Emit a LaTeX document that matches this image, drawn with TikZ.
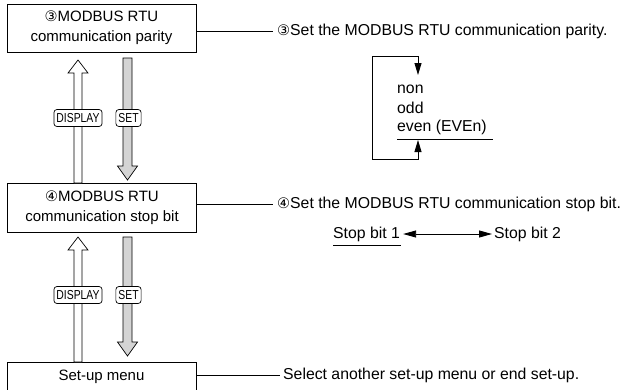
\documentclass[tikz,border=0pt]{standalone}
\usepackage{fontspec}
\setmainfont{Liberation Sans}
\newfontfamily\symfont{DejaVu Sans}
\newfontfamily\keyfont[FakeStretch=0.8]{Liberation Sans}
\usetikzlibrary{arrows.meta}
\definecolor{setgray}{gray}{0.83}
\newcommand\cn[1]{{\symfont\fontsize{14.5}{14.5}\selectfont #1}}
\newcommand\blkup[4]{\filldraw[blk,fill=#4] ({#1-4},#2) -- ({#1-4},{#3+13}) -- ({#1-10},{#3+13}) -- (#1,#3) -- ({#1+10},{#3+13}) -- ({#1+4},{#3+13}) -- ({#1+4},#2) -- cycle;}
\newcommand\blkdown[4]{\filldraw[blk,fill=#4] ({#1-4.5},#2) -- ({#1-4.5},{#3-14}) -- ({#1-10},{#3-14}) -- (#1,#3) -- ({#1+10},{#3-14}) -- ({#1+4.5},{#3-14}) -- ({#1+4.5},#2) -- cycle;}
\begin{document}
\begin{tikzpicture}[x=1pt,y=-1pt,
  menubox/.style={draw, line width=0.9pt, minimum width=189pt, minimum height=48pt, align=center, inner sep=0pt, font=\fontsize{15}{20}\selectfont},
  desc/.style={anchor=west, inner sep=0pt, font=\fontsize{15.8}{19}\selectfont},
  keylabel/.style={draw, rounded corners=3pt, fill=white, inner xsep=2.5pt, inner ysep=0pt, minimum height=17pt, line width=0.7pt, font=\keyfont\fontsize{13}{13}\selectfont},
  conn/.style={line width=0.9pt},
  blk/.style={line width=0.7pt, draw=black},
  tri/.style={-{Triangle[length=12pt,width=7pt]}}]
\useasboundingbox (0,0) rectangle (630,389);

% menu boxes
\node[menubox] (b3) at (101.5,28) {\cn{③}MODBUS RTU\\communication parity};
\node[menubox, minimum height=49pt] (b4) at (102,207.5) {\cn{④}MODBUS RTU\\communication stop bit};
\node[menubox, minimum height=30pt] (b5) at (101.5,377) {Set-up menu};

% descriptions
\node[desc] (d3) at (277,31) {\cn{③}Set the MODBUS RTU communication parity.};
\node[desc] (d4) at (277,204) {\cn{④}Set the MODBUS RTU communication stop bit.};
\node[desc] (d5) at (283,375) {Select another set-up menu or end set-up.};
\draw[conn] (b3.east |- d3.west) -- ([xshift=-4pt]d3.west);
\draw[conn] (b4.east |- d4.west) -- ([xshift=-4pt]d4.west);
\draw[conn] (b5.east |- d5.west) -- ([xshift=-3pt]d5.west);

% parity options
\node[desc] (p1) at (397,89) {non};
\node[desc] (p2) at (397,108) {odd};
\node[desc] (p3) at (397,127) {even (EVEn)};
\draw[conn] (397,139) -- (493,139);
\coordinate (lt) at (372,56);
\coordinate (lb) at (372,159);
\coordinate (ta) at (418,75);
\coordinate (ba) at (418,140);
\draw[conn,tri] (lb) -- (lt) -- (ta |- lt) -- (ta);
\draw[conn,tri] (lb) -- (ba |- lb) -- (ba);

% stop bit options
\node[desc] (s1) at (333,234) {Stop bit 1};
\node[desc] (s2) at (494,234) {Stop bit 2};
\draw[conn] (333,245) -- (401,245);
\draw[conn,{Triangle[length=13pt,width=7pt]}-{Triangle[length=13pt,width=7pt]}] ([xshift=3pt]s1.east) -- ([xshift=-2pt]s2.west);

% block arrows between boxes
\blkup{78}{183}{60}{white}
\blkdown{127.5}{58}{180}{setgray}
\blkup{78}{362}{237}{white}
\blkdown{127.5}{237}{356}{setgray}

% key labels
\node[keylabel] (k1) at (78,118) {DISPLAY};
\node[keylabel] (k2) at (128.5,118) {SET};
\node[keylabel] (k3) at (78,295) {DISPLAY};
\node[keylabel] (k4) at (128.5,295) {SET};
\end{tikzpicture}
\end{document}
